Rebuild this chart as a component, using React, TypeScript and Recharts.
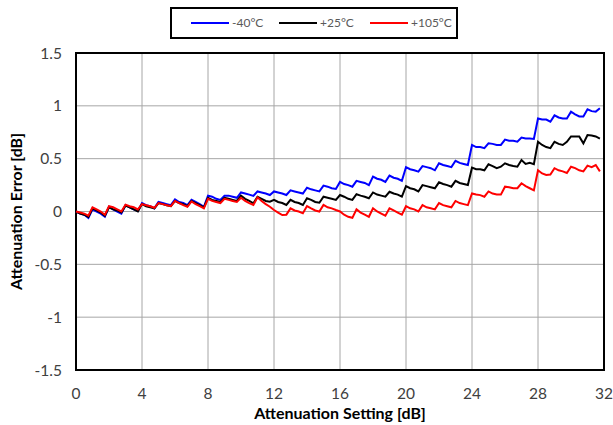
import {
  LineChart,
  Line,
  XAxis,
  YAxis,
  CartesianGrid,
  ReferenceArea,
} from 'recharts'

// attenuation error [dB], one value per 0.25 dB step (0 .. 31.75 dB)
const errMinus40 = [
  0, -0.02, -0.03, -0.06, 0.02, 0.0, -0.02, -0.05,
  0.045, 0.02, 0.0, -0.02, 0.06, 0.04, 0.02, 0.005,
  0.08, 0.06, 0.05, 0.03, 0.09, 0.08, 0.07, 0.06,
  0.115, 0.09, 0.08, 0.06, 0.11, 0.09, 0.07, 0.045,
  0.15, 0.14, 0.12, 0.11, 0.15, 0.15, 0.14, 0.13,
  0.18, 0.17, 0.16, 0.147, 0.19, 0.18, 0.17, 0.156,
  0.19, 0.18, 0.17, 0.156, 0.2, 0.19, 0.18, 0.17,
  0.225, 0.21, 0.2, 0.19, 0.245, 0.235, 0.22, 0.213,
  0.28, 0.26, 0.25, 0.235, 0.29, 0.28, 0.27, 0.25,
  0.33, 0.31, 0.3, 0.28, 0.34, 0.32, 0.31, 0.29,
  0.42, 0.4, 0.39, 0.377, 0.43, 0.42, 0.41, 0.39,
  0.456, 0.44, 0.43, 0.42, 0.48, 0.46, 0.45, 0.44,
  0.63, 0.61, 0.61, 0.6, 0.645, 0.64, 0.63, 0.63,
  0.68, 0.67, 0.67, 0.66, 0.7, 0.69, 0.69, 0.686,
  0.88, 0.87, 0.87, 0.85, 0.91, 0.89, 0.88, 0.88,
  0.945, 0.92, 0.9, 0.9, 0.967, 0.95, 0.945, 0.977,
]

const errPlus25 = [
  0, -0.02, -0.03, -0.05, 0.03, 0.01, -0.01, -0.04,
  0.04, 0.02, 0.01, -0.01, 0.055, 0.04, 0.02, 0.0,
  0.07, 0.05, 0.04, 0.03, 0.08, 0.07, 0.06, 0.05,
  0.1, 0.08, 0.07, 0.05, 0.1, 0.08, 0.06, 0.04,
  0.13, 0.11, 0.1, 0.09, 0.13, 0.12, 0.11, 0.1,
  0.15, 0.12, 0.1, 0.078, 0.14, 0.12, 0.1, 0.093,
  0.11, 0.09, 0.08, 0.062, 0.11, 0.09, 0.08, 0.062,
  0.125, 0.11, 0.09, 0.083, 0.14, 0.13, 0.12, 0.11,
  0.156, 0.14, 0.12, 0.11, 0.163, 0.15, 0.14, 0.125,
  0.18, 0.16, 0.15, 0.14, 0.187, 0.17, 0.16, 0.14,
  0.24, 0.22, 0.21, 0.19, 0.25, 0.24, 0.23, 0.22,
  0.276, 0.26, 0.25, 0.235, 0.29, 0.27, 0.26, 0.25,
  0.415, 0.4, 0.4, 0.39, 0.447, 0.43, 0.41, 0.424,
  0.456, 0.44, 0.43, 0.424, 0.487, 0.45, 0.46, 0.447,
  0.66, 0.63, 0.61, 0.6, 0.66, 0.64, 0.63, 0.66,
  0.71, 0.71, 0.71, 0.645, 0.724, 0.72, 0.71, 0.69,
]

const errPlus105 = [
  0, -0.01, -0.02, -0.04, 0.04, 0.02, 0.0, -0.03,
  0.05, 0.04, 0.02, 0.0, 0.065, 0.05, 0.04, 0.02,
  0.07, 0.06, 0.05, 0.035, 0.08, 0.07, 0.06, 0.05,
  0.1, 0.08, 0.06, 0.045, 0.095, 0.07, 0.05, 0.03,
  0.12, 0.1, 0.09, 0.08, 0.12, 0.11, 0.1, 0.09,
  0.13, 0.1, 0.08, 0.062, 0.134, 0.1, 0.07, 0.045,
  0.014, -0.01, -0.033, -0.03, 0.03, 0.01, 0.0, -0.017,
  0.052, 0.03, 0.01, 0.0, 0.062, 0.04, 0.03, 0.014,
  0.0, -0.03, -0.05, -0.06, 0.02, -0.01, -0.03, -0.05,
  0.03, 0.0, -0.02, -0.04, 0.03, 0.01, -0.01, -0.03,
  0.05, 0.03, 0.02, 0.0, 0.06, 0.04, 0.03, 0.02,
  0.08, 0.06, 0.05, 0.04, 0.1, 0.08, 0.07, 0.06,
  0.17, 0.16, 0.155, 0.14, 0.19, 0.17, 0.16, 0.16,
  0.235, 0.23, 0.22, 0.22, 0.267, 0.24, 0.22, 0.2,
  0.39, 0.36, 0.345, 0.35, 0.41, 0.39, 0.38, 0.365,
  0.424, 0.41, 0.39, 0.38, 0.434, 0.42, 0.44, 0.38,
]

const xTicks = [0, 4, 8, 12, 16, 20, 24, 28, 32]
const yTicks = [-1.5, -1, -0.5, 0, 0.5, 1, 1.5]

const series = [
  { key: 'm40', name: '-40°C', color: '#0000ff' },
  { key: 'p25', name: '+25°C', color: '#000000' },
  { key: 'p105', name: '+105°C', color: '#ff0000' },
]

const data = errMinus40.map((v, i) => ({
  setting: i * 0.25,
  m40: v,
  p25: errPlus25[i],
  p105: errPlus105[i],
}))

const font = 'Lato, "Liberation Sans", sans-serif'
const tickStyle = { fill: '#404040', fontSize: 15.5, fontFamily: font }

function LegendBox() {
  const pos = [19, 107, 198]
  return (
    <div
      style={{
        position: 'absolute',
        left: 170,
        top: 7,
        width: 288,
        height: 32,
        boxSizing: 'border-box',
        border: '2px solid #000',
        background: '#fff',
        fontFamily: font,
        fontSize: 12,
        color: '#595959',
      }}
    >
      {series.map((s, i) => (
        <div key={s.key} style={{ position: 'absolute', left: pos[i], top: 6, display: 'flex', alignItems: 'center' }}>
          <span style={{ display: 'inline-block', width: 38, height: 2, background: s.color, marginRight: 3 }} />
          <span>{s.name}</span>
        </div>
      ))}
    </div>
  )
}

export default function App() {
  return (
    <div style={{ position: 'relative', width: 613, height: 425, background: '#fff' }}>
      <style>{'body{margin:0}'}</style>
      <LineChart width={613} height={425} data={data} margin={{ top: 53, right: 9, bottom: 3, left: 0 }}>
        <CartesianGrid stroke="#a6a6a6" strokeWidth={1} />
        <XAxis
          dataKey="setting"
          type="number"
          domain={[0, 32]}
          ticks={xTicks}
          interval={0}
          height={52}
          tickLine={false}
          tickSize={0}
          tickMargin={18}
          axisLine={false}
          tick={tickStyle}
          label={{
            value: 'Attenuation Setting [dB]',
            position: 'insideBottom',
            offset: 3,
            style: { fill: '#000', fontSize: 16, fontWeight: 700, fontFamily: font },
          }}
        />
        <YAxis
          type="number"
          domain={[-1.5, 1.5]}
          ticks={yTicks}
          interval={0}
          width={76}
          tickLine={false}
          tickSize={0}
          tickMargin={14}
          axisLine={false}
          tick={tickStyle}
          label={{
            value: 'Attenuation Error [dB]',
            angle: -90,
            position: 'insideLeft',
            offset: 16,
            style: { textAnchor: 'middle', fill: '#000', fontSize: 16, fontWeight: 700, fontFamily: font },
          }}
        />
        {series.map((s) => (
          <Line
            key={s.key}
            type="linear"
            dataKey={s.key}
            name={s.name}
            stroke={s.color}
            strokeWidth={2}
            dot={false}
            isAnimationActive={false}
          />
        ))}
        <ReferenceArea x1={0} x2={32} y1={-1.5} y2={1.5} fill="none" stroke="#000" strokeWidth={2} ifOverflow="visible" />
      </LineChart>
      <LegendBox />
    </div>
  )
}
